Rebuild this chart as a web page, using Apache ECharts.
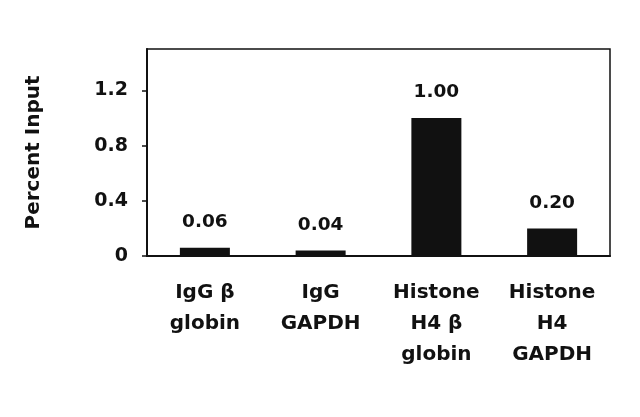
<!DOCTYPE html>
<html>
<head>
<meta charset="utf-8">
<script src="https://cdn.jsdelivr.net/npm/echarts@6/dist/echarts.min.js"></script>
<style>
html,body{margin:0;padding:0;background:#fff;}
#chart{width:640px;height:417px;}
</style>
</head>
<body>
<div id="chart"></div>
<script>
const categories = ["IgG \u03b2\nglobin", "IgG\nGAPDH", "Histone\nH4 \u03b2\nglobin", "Histone\nH4\nGAPDH"];
const percentInput = [0.06, 0.04, 1.00, 0.20];
const yTicks = [0, 0.4, 0.8, 1.2];
const yAxisName = "Percent Input";

const FONT = "DejaVu Sans";
const chart = echarts.init(document.getElementById('chart'));
chart.setOption({
  backgroundColor: '#ffffff',
  animation: false,
  grid: {
    left: 147, right: 30, top: 49, bottom: 161,
    show: true, borderColor: '#111', borderWidth: 1.5, backgroundColor: 'transparent'
  },
  xAxis: {
    type: 'category',
    data: categories,
    axisLine: { show: true, lineStyle: { color: '#111', width: 2 } },
    axisTick: { show: false },
    axisLabel: {
      interval: 0, margin: 21, lineHeight: 31,
      fontFamily: FONT, fontWeight: 'bold', fontSize: 20, color: '#111'
    }
  },
  yAxis: {
    type: 'value',
    min: 0, max: 1.5,
    name: yAxisName,
    nameLocation: 'middle',
    nameGap: 103,
    nameTextStyle: { fontFamily: FONT, fontWeight: 'bold', fontSize: 20, color: '#111' },
    axisLine: { show: true, lineStyle: { color: '#111', width: 2 } },
    axisTick: { show: true, length: 5, customValues: yTicks, lineStyle: { color: '#111', width: 1.5 } },
    axisLabel: {
      customValues: yTicks, margin: 19,
      fontFamily: FONT, fontWeight: 'bold', fontSize: 19, color: '#111'
    },
    splitLine: { show: false }
  },
  series: [{
    type: 'bar',
    data: percentInput,
    barWidth: 50,
    itemStyle: { color: '#111' },
    label: {
      show: true, position: 'top', distance: 16,
      formatter: p => p.value.toFixed(2),
      fontFamily: FONT, fontWeight: 'bold', fontSize: 18.5, color: '#111'
    }
  }]
});
</script>
</body>
</html>
